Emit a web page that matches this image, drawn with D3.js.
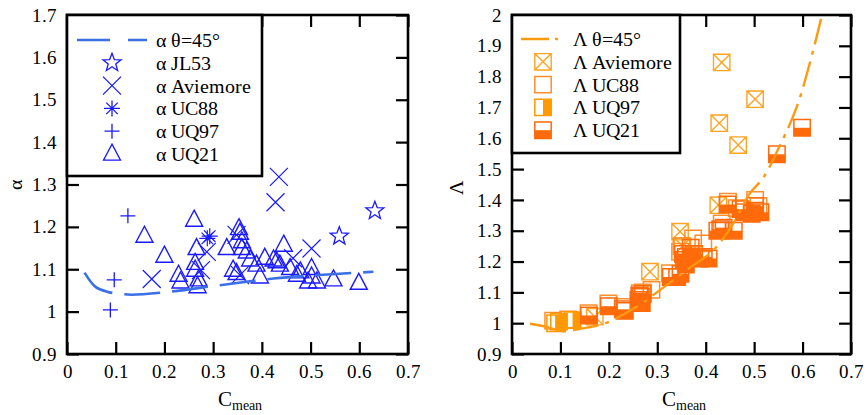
<!DOCTYPE html>
<html><head><meta charset="utf-8">
<script src="https://cdn.jsdelivr.net/npm/d3@7"></script>
<style>
@font-face{font-family:"ChartSerif";src:local("Liberation Serif"),local("LiberationSerif"),local("LiberationSerif-Regular"),local("Times New Roman"),local("DejaVu Serif"),local("DejaVuSerif"),local("Noto Serif"),local("NotoSerif-Regular");}
body{margin:0;background:#fff}svg{display:block}
</style>
</head><body>
<svg id="c" width="868" height="415"></svg>
<script>
// ---------- data ----------
const xTicks = [0,0.1,0.2,0.3,0.4,0.5,0.6,0.7];
const xTickLabels = ["0","0.1","0.2","0.3","0.4","0.5","0.6","0.7"];
const alphaTicks = [0.9,1.0,1.1,1.2,1.3,1.4,1.5,1.6,1.7];
const alphaTickLabels = ["0.9","1","1.1","1.2","1.3","1.4","1.5","1.6","1.7"];
const lambdaTicks = [0.9,1.0,1.1,1.2,1.3,1.4,1.5,1.6,1.7,1.8,1.9,2.0];
const lambdaTickLabels = ["0.9","1","1.1","1.2","1.3","1.4","1.5","1.6","1.7","1.8","1.9","2"];

// alpha, theta = 45 deg curve
const thetaAlphaC = [0.036,0.058,0.082,0.109,0.133,0.212,0.318,0.424,0.526,0.629];
const thetaAlpha  = [1.092,1.059,1.047,1.042,1.040,1.047,1.063,1.078,1.087,1.094];
// JL53
const jl53C = [0.559,0.632];
const jl53Alpha = [1.178,1.238];
// Aviemore
const aviC = [0.174,0.287,0.275,0.348,0.355,0.428,0.435,0.464,0.502];
const aviAlpha = [1.077,1.141,1.098,1.181,1.086,1.258,1.318,1.126,1.149];
const aviLambdaC = [0.171,0.285,0.347,0.352,0.426,0.428,0.433,0.467,0.502];
const aviLambda = [1.021,1.167,1.297,1.250,1.383,1.649,1.846,1.578,1.727];
// UC88
const uc88C = [0.288,0.293];
const uc88Alpha = [1.173,1.178];
const uc88LambdaC = [0.085,0.116,0.158,0.199,0.229,0.264,0.270,0.288,0.326,0.347,0.350,0.374,0.395,0.433,0.446,0.464,0.502,0.509];
const uc88Lambda = [1.008,1.012,1.032,1.064,1.053,1.097,1.100,1.108,1.162,1.232,1.250,1.275,1.259,1.324,1.394,1.373,1.400,1.380];
// UQ97
const uq97C = [0.089,0.097,0.125];
const uq97Alpha = [1.004,1.075,1.226];
const uq97Lambda = [1.000,1.005,1.010];
// UQ21
const uq21C = [0.159,0.200,0.261,0.229,0.233,0.266,0.263,0.263,0.270,0.268,0.328,0.353,0.355,0.359,0.359,0.348,0.369,0.376,0.389,0.396,0.406,0.430,0.437,0.445,0.458,0.472,0.479,0.502,0.502,0.513,0.547,0.599,0.495,0.341,0.424];
const uq21Alpha = [1.178,1.131,1.216,1.086,1.070,1.149,1.114,1.098,1.075,1.059,1.149,1.196,1.185,1.165,1.149,1.090,1.141,1.122,1.110,1.082,1.126,1.118,1.110,1.157,1.102,1.086,1.094,1.102,1.082,1.070,1.075,1.067,1.070,1.098,1.122];
const uq21Lambda = [1.025,1.055,1.075,1.045,1.040,1.085,1.090,1.070,1.095,1.065,1.150,1.225,1.205,1.190,1.215,1.160,1.245,1.225,1.210,1.215,1.210,1.305,1.310,1.385,1.300,1.370,1.360,1.365,1.380,1.360,1.548,1.634,1.355,1.150,1.300];
// Lambda, theta = 45 deg curve
const thetaLambdaC = [0.037,0.069,0.106,0.145,0.193,0.257,0.306,0.361,0.416,0.457,0.491,0.518,0.547,0.588,0.622,0.640];
const thetaLambda  = [0.998,0.989,0.974,0.983,1.000,1.053,1.108,1.173,1.237,1.324,1.421,1.470,1.556,1.702,1.886,2.000];

// ---------- drawing ----------
const FONT = "ChartSerif, 'Liberation Serif', 'Times New Roman', 'DejaVu Serif', serif";
const svg = d3.select("#c").style("font-family",FONT);
const BLUE = "#1a1aff", BLUE_LINE = "#3a70e6";
const C_AVI = "#ffa322", C_UC88 = "#ff8f2e", C_UQ97 = "#ff9900", C_UQ21 = "#ff6a0a", C_LINE = "#ff9a10";

function zip(a,b){ return a.map((v,i)=>[v,b[i]]); }
function txt(sel){ return sel.style("font-family",FONT).attr("fill","#000"); }

const mk = {
  star(r){ let p=""; for(let i=0;i<10;i++){ const rr = i%2? r*0.42 : r; const a = -Math.PI/2 + i*Math.PI/5; p += (i?"L":"M")+(rr*Math.cos(a)).toFixed(2)+","+(rr*Math.sin(a)).toFixed(2);} return p+"Z"; },
  cross(r){ return `M${-r},${-r}L${r},${r}M${-r},${r}L${r},${-r}`; },
  plus(r){ return `M${-r},0L${r},0M0,${-r}L0,${r}`; },
  aster(r){ const d=r*0.72; return `M${-r},0L${r},0M0,${-r}L0,${r}M${-d},${-d}L${d},${d}M${-d},${d}L${d},${-d}`; },
  tri(w,h){ return `M0,${-h*0.62}L${w/2},${h*0.38}L${-w/2},${h*0.38}Z`; },
  sq(s){ return `M${-s},${-s}H${s}V${s}H${-s}Z`; },
  xsq(s){ return `M${-s},${-s}H${s}V${s}H${-s}ZM${-s},${-s}L${s},${s}M${-s},${s}L${s},${-s}`; }
};

function panel(cfg){
  const {x0,x1,y0,y1,yDomain,yTicks,yLabels,id} = cfg;
  const x = d3.scaleLinear().domain([0,0.7]).range([x0,x1]);
  const y = d3.scaleLinear().domain(yDomain).range([y1,y0]);
  const g = svg.append("g");
  svg.append("clipPath").attr("id",id).append("rect").attr("x",x0).attr("y",y0).attr("width",x1-x0).attr("height",y1-y0);
  const TS = 12;
  const bottom = d3.axisBottom(x).tickValues(xTicks).tickSize(-TS).tickPadding(14).tickFormat((d,i)=>xTickLabels[i]);
  const top = d3.axisTop(x).tickValues(xTicks).tickSize(-TS).tickFormat("");
  const left = d3.axisLeft(y).tickValues(yTicks).tickSize(-TS).tickPadding(10).tickFormat((d,i)=>yLabels[i]);
  const right = d3.axisRight(y).tickValues(yTicks).tickSize(-TS).tickFormat("");
  const ax = [
    g.append("g").attr("transform",`translate(0,${y1})`).call(bottom),
    g.append("g").attr("transform",`translate(0,${y0})`).call(top),
    g.append("g").attr("transform",`translate(${x0},0)`).call(left),
    g.append("g").attr("transform",`translate(${x1},0)`).call(right)
  ];
  ax.forEach(a=>{ a.attr("font-family",null).style("font-family",FONT);
    a.select(".domain").remove(); a.selectAll("line").attr("stroke","#000").attr("stroke-width",2.2);
    txt(a.selectAll("text")).attr("font-size",19); });
  ax[0].selectAll("text").attr("dy","0.55em");
  const data = svg.append("g").attr("clip-path",`url(#${id})`);
  return {x,y,g,data};
}

// ---------- left panel ----------
const L = panel({id:"clipL",x0:67,x1:408,y0:15,y1:354,yDomain:[0.9,1.7],yTicks:alphaTicks,yLabels:alphaTickLabels});
function pts(P,cs,vs,path,opts){
  P.data.append("g").selectAll("path").data(zip(cs,vs)).join("path")
    .attr("transform",d=>`translate(${P.x(d[0])},${P.y(d[1])})`)
    .attr("d",path).attr("fill",opts.fill||"none").attr("stroke",opts.stroke).attr("stroke-width",opts.sw||1.3);
}
pts(L,uq21C,uq21Alpha,mk.tri(17,16),{stroke:BLUE,sw:1.4});
pts(L,aviC,aviAlpha,mk.cross(9),{stroke:BLUE,sw:1.2});
pts(L,uq97C,uq97Alpha,mk.plus(7.5),{stroke:BLUE,sw:1.3});
pts(L,uc88C,uc88Alpha,mk.aster(8),{stroke:BLUE,sw:1.2});
pts(L,jl53C,jl53Alpha,mk.star(9.5),{stroke:BLUE,sw:1.3});
L.data.append("path").datum(zip(thetaAlphaC,thetaAlpha))
  .attr("d",d3.line().x(d=>L.x(d[0])).y(d=>L.y(d[1])).curve(d3.curveCatmullRom))
  .attr("fill","none").attr("stroke",BLUE_LINE).attr("stroke-width",2.6).attr("stroke-dasharray","36,12");
L.g.append("rect").attr("x",67).attr("y",15).attr("width",341).attr("height",339).attr("fill","none").attr("stroke","#000").attr("stroke-width",2.6);

// left legend
const lg = svg.append("g");
lg.append("rect").attr("x",67).attr("y",15).attr("width",195).attr("height",161).attr("fill","#fff").attr("stroke","#000").attr("stroke-width",2.6);
const leftLegend = ["α θ=45°","α JL53","α Aviemore","α UC88","α UQ97","α UQ21"];
const leftShapes = [null,mk.star(9.5),mk.cross(9),mk.aster(8),mk.plus(7.5),mk.tri(17,16)];
leftLegend.forEach((t,i)=>{
  const yy = 40 + i*22.8;
  if(i===0){
    lg.append("line").attr("x1",77).attr("x2",147).attr("y1",yy).attr("y2",yy).attr("stroke",BLUE_LINE).attr("stroke-width",2.6).attr("stroke-dasharray","33,18");
  } else {
    lg.append("path").attr("transform",`translate(112,${yy})`).attr("d",leftShapes[i]).attr("fill","none").attr("stroke",BLUE).attr("stroke-width",1.3);
  }
  txt(lg.append("text")).attr("x",156).attr("y",yy).attr("dy","0.35em").attr("font-size",20).text(t);
});

// ---------- right panel ----------
const R = panel({id:"clipR",x0:512,x1:851,y0:15,y1:354,yDomain:[0.9,2.0],yTicks:lambdaTicks,yLabels:lambdaTickLabels});
const S = 8.2;
pts(R,aviLambdaC,aviLambda,mk.xsq(S),{stroke:C_AVI,sw:1.4});
pts(R,uc88LambdaC,uc88Lambda,mk.sq(S),{stroke:C_UC88,sw:1.5});
function halfSq(P,cs,vs,color,side){
  const gg = P.data.append("g").selectAll("g").data(zip(cs,vs)).join("g")
    .attr("transform",d=>`translate(${P.x(d[0])},${P.y(d[1])})`);
  if(side==="right") gg.append("rect").attr("x",0).attr("y",-S).attr("width",S).attr("height",2*S).attr("fill",color);
  else gg.append("rect").attr("x",-S).attr("y",0).attr("width",2*S).attr("height",S).attr("fill",color);
  gg.append("path").attr("d",mk.sq(S)).attr("fill","none").attr("stroke",color).attr("stroke-width",1.5);
}
halfSq(R,uq97C,uq97Lambda,C_UQ97,"right");
halfSq(R,uq21C,uq21Lambda,C_UQ21,"bottom");
R.data.append("path").datum(zip(thetaLambdaC,thetaLambda))
  .attr("d",d3.line().x(d=>R.x(d[0])).y(d=>R.y(d[1])).curve(d3.curveCatmullRom))
  .attr("fill","none").attr("stroke",C_LINE).attr("stroke-width",2.4).attr("stroke-dasharray","26,7,4,7");
R.g.append("rect").attr("x",512).attr("y",15).attr("width",339).attr("height",339).attr("fill","none").attr("stroke","#000").attr("stroke-width",2.6);

// right legend
const rg = svg.append("g");
rg.append("rect").attr("x",512).attr("y",15).attr("width",168).attr("height",138).attr("fill","#fff").attr("stroke","#000").attr("stroke-width",2.6);
const rightLegend = ["Λ θ=45°","Λ Aviemore","Λ UC88","Λ UQ97","Λ UQ21"];
rightLegend.forEach((t,i)=>{
  const yy = 39 + i*22.8;
  const gx = rg.append("g").attr("transform",`translate(543,${yy})`);
  if(i===0){
    gx.append("line").attr("x1",-22).attr("x2",15).attr("y1",0).attr("y2",0).attr("stroke",C_LINE).attr("stroke-width",2.4).attr("stroke-dasharray","28,6,4,6");
  } else if(i===1){
    gx.append("path").attr("d",mk.xsq(S)).attr("fill","none").attr("stroke",C_AVI).attr("stroke-width",1.4);
  } else if(i===2){
    gx.append("path").attr("d",mk.sq(S)).attr("fill","none").attr("stroke",C_UC88).attr("stroke-width",1.5);
  } else {
    const col = i===3?C_UQ97:C_UQ21;
    if(i===3) gx.append("rect").attr("x",0).attr("y",-S).attr("width",S).attr("height",2*S).attr("fill",col);
    else gx.append("rect").attr("x",-S).attr("y",0).attr("width",2*S).attr("height",S).attr("fill",col);
    gx.append("path").attr("d",mk.sq(S)).attr("fill","none").attr("stroke",col).attr("stroke-width",1.5);
  }
  txt(rg.append("text")).attr("x",573).attr("y",yy).attr("dy","0.35em").attr("font-size",20).text(t);
});

// ---------- axis titles ----------
function ytitle(xp,yp,t){ txt(svg.append("text")).attr("transform",`translate(${xp},${yp}) rotate(-90)`).attr("text-anchor","middle").attr("dy","0.35em").attr("font-size",20).text(t); }
ytitle(15,185,"α");
ytitle(456,187,"Λ");
function xtitle(cx){
  const t = txt(svg.append("text")).attr("x",cx).attr("y",406).attr("text-anchor","middle").attr("font-size",21);
  t.append("tspan").text("C");
  t.append("tspan").attr("font-size",14).attr("dy",4).text("mean");
}
xtitle(240);
xtitle(684);
</script>
</body></html>
